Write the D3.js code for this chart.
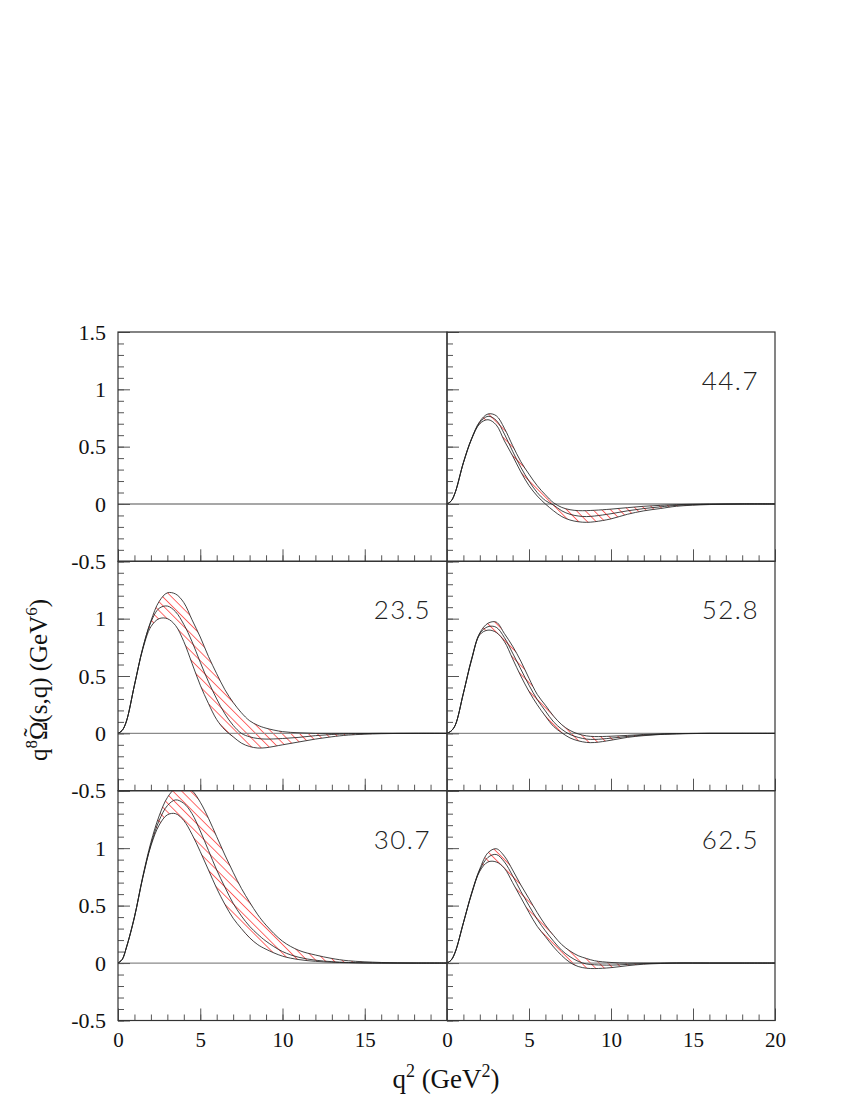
<!DOCTYPE html>
<html><head><meta charset="utf-8">
<script src="https://cdn.jsdelivr.net/npm/d3@7"></script>
<style>body{margin:0;background:#fff}</style></head>
<body>
<script>
// ---- data ----
const q2 = [0,0.25,0.5,1,1.5,2,2.5,3,3.5,4,4.5,5,5.5,6,6.5,7,7.5,8,8.5,9,10,11,12,13,14,16,18,20];

const up_23_5  = [0,.025,.10,.42,.74,.98,1.15,1.225,1.215,1.14,.99,.84,.67,.52,.38,.27,.18,.11,.07,.045,.015,.005,0,0,0,0,0,0];
const mid_23_5 = [0,.025,.10,.42,.74,.97,1.09,1.11,1.06,.95,.80,.62,.45,.30,.17,.07,0,-.03,-.045,-.05,-.045,-.035,-.02,-.01,-.005,0,0,0];
const low_23_5 = [0,.025,.10,.42,.73,.93,1.00,1.00,.94,.80,.61,.42,.26,.12,.03,-.03,-.085,-.115,-.128,-.125,-.10,-.075,-.05,-.03,-.015,-.003,0,0];

const up_30_7  = [0,.03,.13,.40,.75,1.05,1.28,1.44,1.52,1.53,1.50,1.40,1.26,1.10,.94,.79,.65,.53,.42,.33,.19,.11,.07,.04,.02,.005,0,0];
const mid_30_7 = [0,.03,.13,.40,.74,1.03,1.24,1.37,1.42,1.39,1.30,1.15,.98,.81,.66,.52,.41,.32,.25,.19,.10,.05,.025,.012,.005,0,0,0];
const low_30_7 = [0,.03,.13,.40,.74,1.02,1.20,1.29,1.30,1.24,1.12,.97,.81,.65,.51,.39,.30,.22,.16,.12,.06,.03,.015,.007,.003,0,0,0];

const up_44_7  = [0,.025,.10,.36,.57,.72,.785,.77,.66,.51,.37,.26,.16,.08,.01,-.03,-.05,-.058,-.058,-.055,-.045,-.032,-.02,-.012,-.006,0,0,0];
const mid_44_7 = [0,.025,.10,.36,.57,.71,.765,.73,.61,.46,.32,.20,.10,.03,-.01,-.06,-.09,-.105,-.11,-.105,-.085,-.06,-.04,-.025,-.012,-.003,0,0];
const low_44_7 = [0,.025,.10,.36,.565,.70,.735,.69,.55,.42,.28,.16,.07,0,-.06,-.11,-.14,-.155,-.16,-.155,-.13,-.09,-.06,-.04,-.02,-.005,0,0];

const up_52_8  = [0,.02,.07,.35,.65,.875,.96,.97,.87,.76,.63,.48,.34,.245,.15,.075,.025,-.005,-.022,-.028,-.025,-.018,-.01,-.005,-.002,0,0,0];
const mid_52_8 = [0,.02,.07,.35,.645,.87,.93,.925,.835,.70,.56,.42,.295,.195,.10,.035,-.01,-.035,-.05,-.053,-.042,-.027,-.015,-.008,-.003,0,0,0];
const low_52_8 = [0,.02,.07,.35,.64,.86,.90,.88,.80,.65,.50,.365,.25,.15,.06,.005,-.04,-.065,-.079,-.08,-.06,-.035,-.02,-.01,-.005,0,0,0];

const up_62_5  = [0,.025,.095,.35,.61,.82,.96,.995,.93,.81,.68,.56,.44,.33,.24,.16,.105,.064,.04,.02,.005,0,0,0,0,0,0,0];
const mid_62_5 = [0,.025,.095,.35,.605,.81,.92,.945,.88,.76,.625,.50,.38,.28,.19,.11,.055,.015,-.008,-.015,-.018,-.012,-.005,-.002,0,0,0,0];
const low_62_5 = [0,.025,.095,.35,.60,.80,.88,.88,.825,.70,.57,.44,.32,.23,.14,.065,.005,-.03,-.045,-.048,-.04,-.023,-.01,-.004,0,0,0,0];

const panelLabels = [null, "44.7", "23.5", "52.8", "30.7", "62.5"];
const xMajorTicks = [0,5,10,15,20];
const xLabelTicksLeft = [0,5,10,15];
const xLabelTicksRight = [0,5,10,15,20];
const yMajorTicks = [-0.5,0,0.5,1,1.5];
const yLabelTicks = [-0.5,0,0.5,1];
const yLabelTicksTop = [-0.5,0,0.5,1,1.5];

// ---- layout ----
const W = 850, H = 1100;
const colX = [118, 447, 775];
const rowY = [332, 561.3, 790.7, 1020.5];
const SERIF = "'Liberation Serif','Times New Roman',serif";

const series = [
  null,
  {up: up_44_7, mid: mid_44_7, low: low_44_7},
  {up: up_23_5, mid: mid_23_5, low: low_23_5},
  {up: up_52_8, mid: mid_52_8, low: low_52_8},
  {up: up_30_7, mid: mid_30_7, low: low_30_7},
  {up: up_62_5, mid: mid_62_5, low: low_62_5}
];

const svg = d3.select("body").append("svg")
  .attr("width", W).attr("height", H)
  .style("font-family", SERIF);

const defs = svg.append("defs");
const pat = defs.append("pattern")
  .attr("id", "hatch")
  .attr("patternUnits", "userSpaceOnUse")
  .attr("width", 12).attr("height", 6.2)
  .attr("patternTransform", "rotate(45)");
pat.append("line")
  .attr("x1", 0).attr("y1", 3.1).attr("x2", 12).attr("y2", 3.1)
  .attr("stroke", "#ff2020").attr("stroke-width", 0.7);

const curve = d3.curveCatmullRom.alpha(0.5);

for (let i = 0; i < 6; i++) {
  const col = i % 2, row = Math.floor(i / 2);
  const x0 = colX[col], x1 = colX[col + 1];
  const y0 = rowY[row], y1 = rowY[row + 1];
  const x = d3.scaleLinear().domain([0, 20]).range([x0, x1]);
  const y = d3.scaleLinear().domain([-0.5, 1.5]).range([y1, y0]);
  const g = svg.append("g");

  const cid = "clip" + i;
  defs.append("clipPath").attr("id", cid).append("rect")
    .attr("x", x0).attr("y", y0).attr("width", x1 - x0).attr("height", y1 - y0);

  const s = series[i];
  const plot = g.append("g").attr("clip-path", `url(#${cid})`);
  if (s) {
    const area = d3.area().curve(curve)
      .x((d, k) => x(q2[k]))
      .y0((d, k) => y(s.low[k]))
      .y1((d, k) => y(s.up[k]));
    plot.append("path").datum(q2).attr("d", area).attr("fill", "url(#hatch)").attr("stroke", "none");
  }
  // zero line
  plot.append("line")
    .attr("x1", x0).attr("x2", x1).attr("y1", y(0)).attr("y2", y(0))
    .attr("stroke", "#8a8a8a").attr("stroke-width", 1.3);
  if (s) {
    const line = d3.line().curve(curve).x((d, k) => x(q2[k])).y(d => y(d));
    [s.up, s.mid, s.low].forEach(arr => {
      plot.append("path").datum(arr).attr("d", line)
        .attr("fill", "none").attr("stroke", "#222").attr("stroke-width", 0.85);
    });
  }

  // ticks: x at bottom pointing up
  const axT1 = g.append("g").attr("transform", `translate(0,${y1})`)
    .call(d3.axisTop(x).tickValues(d3.range(0, 21, 1)).tickSize(6).tickFormat(""));
  const axT2 = g.append("g").attr("transform", `translate(0,${y1})`)
    .call(d3.axisTop(x).tickValues(xMajorTicks).tickSize(12).tickFormat(""));
  // y ticks at left pointing right
  const ayT1 = g.append("g").attr("transform", `translate(${x0},0)`)
    .call(d3.axisRight(y).tickValues(d3.range(-5, 16, 1).map(v => v / 10)).tickSize(6).tickFormat(""));
  const ayT2 = g.append("g").attr("transform", `translate(${x0},0)`)
    .call(d3.axisRight(y).tickValues(yMajorTicks).tickSize(12).tickFormat(""));
  [axT1, axT2, ayT1, ayT2].forEach(a => {
    a.select(".domain").remove();
    a.selectAll("line").attr("stroke", "#555").attr("stroke-width", 1);
  });

  // frame
  g.append("rect").attr("x", x0).attr("y", y0).attr("width", x1 - x0).attr("height", y1 - y0)
    .attr("fill", "none").attr("stroke", "#333").attr("stroke-width", 1.2);

  // y labels on left column
  if (col === 0) {
    const ay = g.append("g").attr("transform", `translate(${x0},0)`)
      .call(d3.axisLeft(y).tickValues(row === 0 ? yLabelTicksTop : yLabelTicks)
        .tickSize(0).tickPadding(12).tickFormat(d => String(d)));
    ay.select(".domain").remove();
    ay.selectAll("text")
      .style("font-family", SERIF).style("font-size", "22px").attr("fill", "#111");
  }
  // x labels bottom row
  if (row === 2) {
    const ax = g.append("g").attr("transform", `translate(0,${y1})`)
      .call(d3.axisBottom(x).tickValues(col === 0 ? xLabelTicksLeft : xLabelTicksRight)
        .tickSize(0).tickPadding(12).tickFormat(d => String(d)));
    ax.select(".domain").remove();
    ax.selectAll("text")
      .style("font-family", SERIF).style("font-size", "21px").attr("fill", "#111");
  }

  if (panelLabels[i]) {
    g.append("text").attr("x", x1 - 16).attr("y", y0 + 58)
      .attr("text-anchor", "end")
      .style("font-family", "Lato,'Open Sans','Liberation Sans',sans-serif")
      .style("font-weight", 300)
      .style("font-size", "26px").attr("letter-spacing", 1.5)
      .attr("fill", "#222")
      .text(panelLabels[i]);
  }
}

// axis titles
const xt = svg.append("text").attr("x", 446).attr("y", 1088).attr("text-anchor", "middle")
  .style("font-size", "27px").attr("fill", "#111");
xt.append("tspan").text("q");
xt.append("tspan").attr("dy", -11).style("font-size", "18px").text("2");
xt.append("tspan").attr("dy", 11).text(" (GeV");
xt.append("tspan").attr("dy", -11).style("font-size", "18px").text("2");
xt.append("tspan").attr("dy", 11).text(")");

const yt = svg.append("text").attr("transform", "translate(47,680) rotate(-90)")
  .attr("text-anchor", "middle").style("font-size", "25px").attr("fill", "#111");
yt.append("tspan").text("q");
yt.append("tspan").attr("dy", -10).style("font-size", "17px").text("8");
yt.append("tspan").attr("dy", 10).text("\u03A9");
yt.append("tspan").attr("dx", -15).attr("dy", -6).text("\u02DC");
yt.append("tspan").attr("dx", 5.5).attr("dy", 6).text("(s,q) (GeV");
yt.append("tspan").attr("dy", -10).style("font-size", "17px").text("6");
yt.append("tspan").attr("dy", 10).text(")");
</script>
</body></html>
